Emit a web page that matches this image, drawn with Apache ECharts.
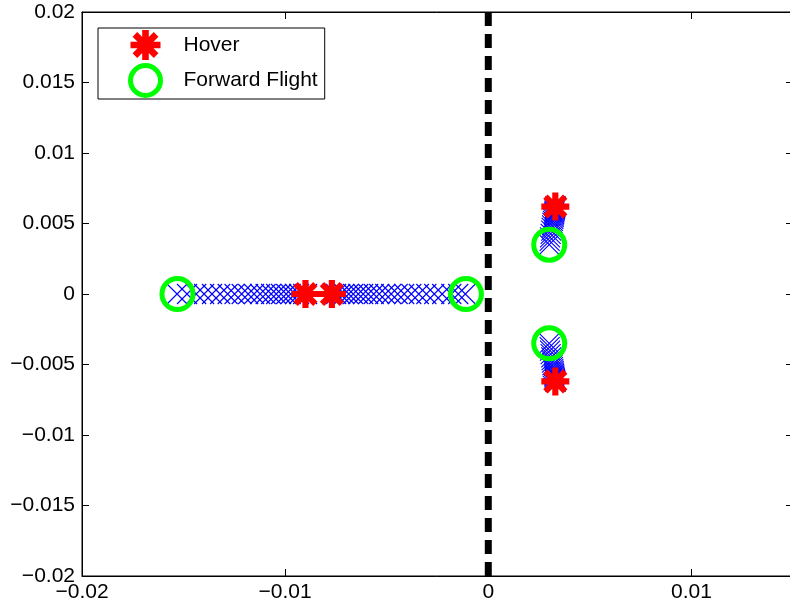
<!DOCTYPE html>
<html>
<head>
<meta charset="utf-8">
<script src="https://cdn.jsdelivr.net/npm/echarts@6/dist/echarts.min.js"></script>
<style>html,body{margin:0;padding:0;background:#fff}#c{width:790px;height:607px}</style>
</head>
<body>
<div id="c"></div>
<script>
// ---- data ----
const hoverX = [-0.0090, -0.0077, 0.0033, 0.0033];
const hoverY = [0, 0, 0.0062, -0.0062];
const forwardX = [-0.0153, -0.0011, 0.0030, 0.0030];
const forwardY = [0, 0, 0.0035, -0.0035];

// root-locus track (blue x markers)
const trackLeftX = [-0.00892, -0.00911, -0.00931, -0.00951, -0.00973, -0.00995, -0.01020, -0.01044, -0.01069, -0.01096, -0.01123,
  -0.01153, -0.01182, -0.01214, -0.01249, -0.01283, -0.01320, -0.01360, -0.01399, -0.01438, -0.01483, -0.01532];
const trackRightX = [-0.00768, -0.00749, -0.00729, -0.00709, -0.00687, -0.00665, -0.00640, -0.00616, -0.00591, -0.00564, -0.00537,
  -0.00507, -0.00478, -0.00446, -0.00414, -0.00379, -0.00342, -0.00305, -0.00266, -0.00227, -0.00182, -0.00148, -0.00113];
const trackUpperX = [0.00331, 0.00330, 0.00329, 0.00328, 0.00327, 0.00326, 0.00325, 0.00324, 0.00323, 0.00322,
  0.00320, 0.00318, 0.00316, 0.00314, 0.00312, 0.00310, 0.00307, 0.00304, 0.00302, 0.00300];
const trackUpperY = [0.00624, 0.00617, 0.00610, 0.00603, 0.00596, 0.00587, 0.00578, 0.00568, 0.00558, 0.00546,
  0.00533, 0.00519, 0.00504, 0.00487, 0.00469, 0.00449, 0.00426, 0.00402, 0.00377, 0.00350];
const trackLowerX = [0.00331, 0.00330, 0.00329, 0.00328, 0.00327, 0.00326, 0.00325, 0.00324, 0.00323, 0.00322,
  0.00320, 0.00318, 0.00316, 0.00314, 0.00312, 0.00310, 0.00307, 0.00304, 0.00302, 0.00300];
const trackLowerY = [-0.00624, -0.00617, -0.00610, -0.00603, -0.00596, -0.00587, -0.00578, -0.00568, -0.00558, -0.00546,
  -0.00533, -0.00519, -0.00504, -0.00487, -0.00469, -0.00449, -0.00426, -0.00402, -0.00377, -0.00350];

const stabilityLineX = [0, 0];
const stabilityLineY = [-0.02, 0.02];

const xTicks = { min: -0.02, max: 0.015, interval: 0.01 };
const yTicks = { min: -0.02, max: 0.02, interval: 0.005 };

// ---- build ----
const zip = (xs, ys) => xs.map((x, i) => [x, ys[i]]);
const track = [].concat(
  trackLeftX.map(x => [x, 0]),
  trackRightX.map(x => [x, 0]),
  zip(trackUpperX, trackUpperY),
  zip(trackLowerX, trackLowerY)
);

const FONT = 'Liberation Sans, Arial, Helvetica, sans-serif';
const STAR = 'path://M-10,-2.2L10,-2.2L10,2.2L-10,2.2Z M2.2,-10L2.2,10L-2.2,10L-2.2,-10Z M-5.51,-8.63L8.63,5.51L5.51,8.63L-8.63,-5.51Z M-8.63,5.51L5.51,-8.63L8.63,-5.51L-5.51,8.63Z';
const XMARK = 'path://M0,0L10,10M10,0L0,10';

function num(v) {
  if (Math.abs(v) < 1e-12) return '0';
  return String(+v.toFixed(4)).replace('-', '\u2212');
}
function fmtX(v) {
  if (Math.abs(v - xTicks.max) < 1e-9) return '';
  return num(v);
}

const chart = echarts.init(document.getElementById('c'), null, { renderer: 'canvas' });
chart.setOption({
  animation: false,
  backgroundColor: '#fff',
  textStyle: { fontFamily: FONT },
  grid: { left: 82, width: 711, top: 12, height: 564, show: true, borderColor: '#000', borderWidth: 1,
    backgroundColor: 'transparent', containLabel: false, outerBoundsMode: 'none' },
  xAxis: [
    { type: 'value', min: xTicks.min, max: xTicks.max, interval: xTicks.interval, position: 'bottom',
      axisLine: { show: true, onZero: false, lineStyle: { color: '#000', width: 1 } },
      axisTick: { show: true, inside: true, length: 7, lineStyle: { color: '#000' } },
      axisLabel: { show: true, margin: 6, color: '#000', fontSize: 21, fontFamily: FONT, formatter: fmtX, showMaxLabel: false },
      splitLine: { show: false } },
    { type: 'value', min: xTicks.min, max: xTicks.max, interval: xTicks.interval, position: 'top',
      axisLine: { show: true, onZero: false, lineStyle: { color: '#000', width: 1 } },
      axisTick: { show: true, inside: true, length: 7, lineStyle: { color: '#000' } },
      axisLabel: { show: false }, splitLine: { show: false } }
  ],
  yAxis: [
    { type: 'value', min: yTicks.min, max: yTicks.max, interval: yTicks.interval, position: 'left',
      axisLine: { show: true, onZero: false, lineStyle: { color: '#000', width: 1 } },
      axisTick: { show: true, inside: true, length: 7, lineStyle: { color: '#000' } },
      axisLabel: { show: true, margin: 7, color: '#000', fontSize: 21, fontFamily: FONT, formatter: num },
      splitLine: { show: false } },
    { type: 'value', min: yTicks.min, max: yTicks.max, interval: yTicks.interval, position: 'right',
      axisLine: { show: true, onZero: false, lineStyle: { color: '#000', width: 1 } },
      axisTick: { show: true, inside: true, length: 7, lineStyle: { color: '#000' } },
      axisLabel: { show: false }, splitLine: { show: false } }
  ],
  legend: {
    orient: 'vertical', left: 98, top: 28,
    padding: [2, 7, 1, 30], itemGap: 3, itemWidth: 30, itemHeight: 30,
    borderColor: '#000', borderWidth: 1, backgroundColor: '#fff',
    textStyle: { fontSize: 21, color: '#000', fontFamily: FONT, padding: [0, 0, 0, 18] },
    data: [
      { name: 'Hover', icon: STAR, itemStyle: { color: '#ff0000', borderWidth: 0 } },
      { name: 'Forward Flight', icon: 'circle', itemStyle: { color: 'rgba(0,0,0,0)', borderColor: '#00ff00', borderWidth: 5 } }
    ]
  },
  series: [
    { name: 'track', type: 'scatter', data: track, symbol: XMARK, symbolSize: 20,
      itemStyle: { color: 'rgba(0,0,0,0)', borderColor: '#0000ff', borderWidth: 1.1, opacity: 1 }, z: 2, silent: true },
    { name: 'stability', type: 'line', data: zip(stabilityLineX, stabilityLineY), symbol: 'none',
      lineStyle: { color: '#000', width: 7, type: [14, 8] }, z: 3, silent: true },
    { name: 'Hover', type: 'scatter', data: zip(hoverX, hoverY), symbol: STAR, symbolSize: 28,
      itemStyle: { color: '#ff0000', opacity: 1 }, z: 4, silent: true },
    { name: 'Forward Flight', type: 'scatter', data: zip(forwardX, forwardY), symbol: 'circle', symbolSize: 31,
      itemStyle: { color: 'rgba(0,0,0,0)', borderColor: '#00ff00', borderWidth: 5, opacity: 1 }, z: 5, silent: true }
  ]
});
</script>
</body>
</html>
